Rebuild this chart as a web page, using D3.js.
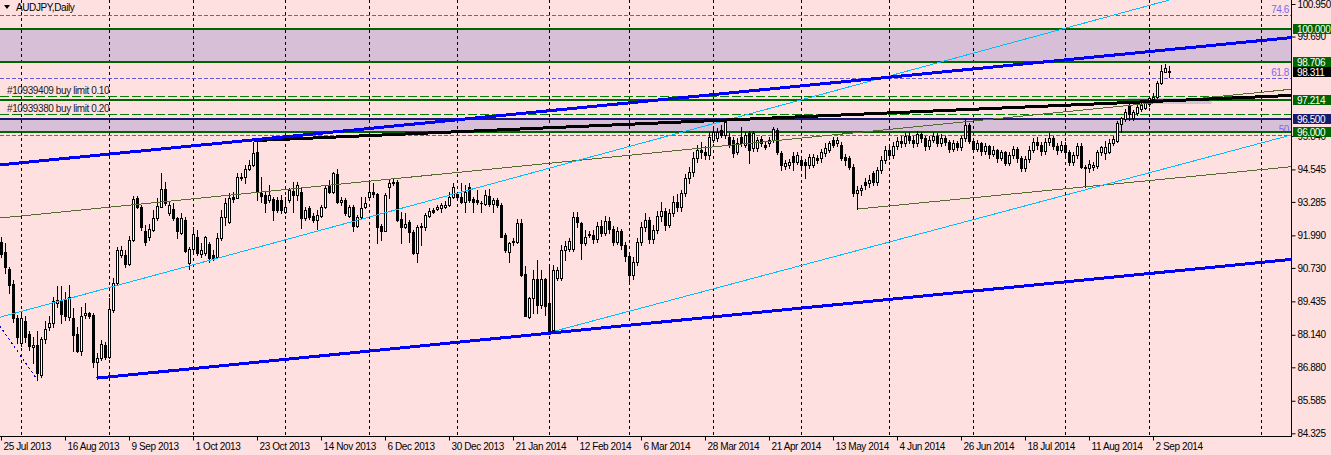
<!DOCTYPE html>
<html><head><meta charset="utf-8">
<script src="https://cdn.jsdelivr.net/npm/d3@7"></script>
<style>
body{margin:0;background:#FFE0E0;overflow:hidden}
svg{display:block}
text{font-family:"Liberation Sans",Arial,sans-serif;font-size:10px;letter-spacing:-0.4px}
</style></head><body>
<svg id="c" width="1331" height="455"></svg>
<script>
// ---------- data (daily candles, index 0 = 25 Jul 2013) ----------
const openL=[91.75,91.36,90.68,90.11,88.78,87.81,88.69,88.18,87.66,87.75,86.59,87.97,88.43,88.59,89.36,89.43,89.49,88.81,88.78,88.18,87.53,88.90,88.98,88.91,87.08,87.23,87.75,87.27,89.10,90.14,91.23,91.23,90.87,91.81,93.43,93.10,92.16,91.92,92.20,92.65,93.10,93.77,92.85,93.00,92.65,92.10,92.59,90.91,91.46,91.92,91.27,91.30,91.66,91.23,91.17,91.88,92.69,92.52,93.49,93.45,94.26,94.26,94.55,94.72,95.23,93.62,93.55,93.36,93.40,93.36,93.36,92.91,93.36,93.71,93.55,93.68,92.65,93.04,92.74,92.59,92.74,93.08,93.94,93.68,94.37,93.27,93.36,92.74,93.08,92.37,92.69,93.08,93.49,93.68,93.58,92.35,92.17,93.88,94.07,94.07,92.63,92.30,92.50,92.12,91.30,92.37,92.33,92.74,92.97,93.01,93.04,93.10,93.17,93.49,93.59,93.49,93.30,93.85,93.40,93.36,93.26,93.21,93.51,93.21,93.36,93.17,92.01,91.36,91.79,91.75,92.46,90.50,88.82,89.56,90.29,89.30,90.29,89.36,88.33,90.33,90.33,91.43,91.45,91.45,92.69,92.46,91.68,92.04];
const highL=[91.92,91.71,90.78,90.27,88.91,89.04,88.85,88.27,88.07,88.27,88.07,88.69,88.85,89.62,90.01,90.03,89.81,90.07,89.17,88.46,89.23,89.36,89.04,88.98,87.43,87.94,87.88,89.56,90.33,91.53,91.56,91.43,91.97,93.52,93.52,93.17,92.39,92.43,92.97,93.43,94.39,94.07,93.30,93.23,92.72,92.87,92.69,91.55,92.30,92.20,91.68,91.97,91.75,91.43,92.07,92.97,93.43,93.62,93.68,94.39,94.39,94.72,94.91,95.62,95.62,94.26,93.68,93.94,93.49,93.49,93.55,93.49,93.81,94.07,94.07,93.81,93.10,93.13,92.85,92.97,93.17,93.94,94.14,94.46,94.55,93.49,93.43,93.17,93.17,92.78,93.49,93.49,94.01,94.01,93.64,92.43,93.62,94.14,94.20,94.14,92.91,92.85,92.59,92.20,92.39,92.46,92.85,93.04,93.04,93.17,93.23,93.33,93.68,94.01,93.68,94.01,93.94,94.01,93.49,93.75,93.33,93.75,93.77,93.43,93.43,93.23,92.07,91.75,91.88,92.61,92.61,90.81,89.62,90.65,91.04,90.65,90.33,90.85,90.85,90.78,91.62,91.79,91.88,92.91,92.91,92.52,92.20,92.14];
const lowL=[91.17,90.52,89.75,88.65,87.81,87.69,87.88,87.56,87.04,86.40,86.52,87.81,88.33,88.46,89.23,88.61,88.72,88.72,87.53,87.49,87.36,88.78,88.78,86.89,86.46,87.17,87.19,87.23,89.04,90.07,91.17,90.78,90.85,91.79,93.04,92.20,91.62,91.81,92.14,92.59,93.08,93.17,92.78,92.59,91.88,92.05,91.36,90.68,91.40,91.23,91.17,91.23,90.94,91.04,91.10,91.81,92.39,92.46,93.30,93.43,94.14,94.01,94.52,94.68,93.36,93.30,92.91,93.30,92.59,92.91,92.85,92.85,93.30,92.91,93.36,92.26,92.59,92.61,92.52,92.23,92.69,93.04,93.62,93.62,93.23,93.17,92.78,92.69,92.17,92.33,92.65,93.04,93.43,93.49,91.71,91.81,92.14,93.43,93.94,92.56,91.68,92.26,91.72,91.27,90.97,91.62,92.20,92.69,92.85,92.97,92.91,93.04,93.13,93.43,93.43,93.23,92.91,93.30,92.91,93.21,92.91,93.17,93.13,92.91,93.10,91.92,91.36,90.97,91.62,91.68,90.43,88.85,88.78,88.98,88.98,89.17,88.91,88.23,88.27,90.27,90.27,91.04,91.40,91.40,92.33,91.06,91.62,91.94];
const closeL=[91.27,90.78,90.07,88.78,88.07,88.78,88.07,87.69,87.75,86.65,87.97,88.36,88.59,89.43,89.47,88.94,88.85,89.59,88.14,87.53,88.87,88.98,88.87,87.10,87.23,87.78,87.27,89.13,90.14,91.43,91.43,90.87,91.81,93.40,93.10,92.33,91.75,92.23,92.68,93.14,93.77,93.26,93.17,92.65,92.14,92.65,91.40,91.46,92.05,91.30,91.43,91.92,91.10,91.10,91.88,92.69,93.23,93.45,93.40,94.24,94.23,94.55,94.72,95.17,93.68,93.53,93.26,93.55,92.97,92.97,92.97,93.08,93.75,93.55,93.94,92.65,92.97,92.69,92.59,92.78,93.08,93.81,93.68,94.39,93.30,93.36,92.85,93.08,92.37,92.69,93.04,93.26,93.66,93.58,92.33,92.17,93.55,94.03,94.01,92.59,92.30,92.42,92.11,91.30,92.33,92.30,92.78,92.95,92.91,93.08,93.17,93.17,93.49,93.85,93.46,93.30,93.66,93.36,93.30,93.30,93.23,93.55,93.21,93.36,93.17,91.94,91.43,91.71,91.72,92.46,90.46,88.85,89.56,90.29,89.30,90.29,89.27,88.27,90.65,90.65,91.43,91.58,91.79,92.69,92.50,91.68,91.92,92.01];
const openR=[92.00,91.85,92.35,92.10,92.55,92.25,91.75,92.15,91.60,91.20,90.45,90.95,91.75,92.30,92.60,91.85,92.20,92.75,92.95,92.40,92.85,93.30,93.10,93.62,94.20,94.45,95.00,95.30,95.20,95.10,95.68,95.75,96.07,95.88,95.81,95.68,95.23,95.81,95.49,95.94,95.36,95.36,95.71,95.49,95.55,95.68,96.07,95.17,94.68,94.72,95.08,94.85,94.91,94.85,94.72,94.72,94.97,94.97,95.17,95.30,95.68,95.55,95.49,95.04,94.97,94.65,93.62,93.75,94.07,94.00,94.39,94.07,94.52,94.90,95.30,95.10,95.45,95.65,95.55,95.85,95.70,95.55,95.90,95.75,95.45,95.70,95.85,95.55,95.75,95.60,95.35,95.55,95.40,95.75,96.25,95.65,95.35,95.55,95.25,95.45,95.15,95.30,95.00,95.20,94.80,95.10,95.35,95.00,94.60,94.95,95.30,95.60,95.50,95.25,95.60,95.75,95.45,95.30,95.50,95.20,94.85,95.10,95.46,94.65,94.59,94.62,94.68,95.20,95.19,95.23,95.56,95.66,96.30,96.50,97.00,96.52,96.72,96.87,96.91,97.08,97.27,97.36,97.88,98.33,98.36];
const highR=[92.20,92.50,92.60,92.75,92.70,92.35,92.30,92.25,91.75,91.30,91.15,91.90,92.50,92.85,92.70,92.40,92.95,93.30,93.05,93.00,93.50,93.60,93.75,94.35,94.65,95.20,95.50,95.60,95.45,96.00,96.10,96.15,96.25,96.43,95.95,95.80,95.75,96.20,96.00,96.05,96.05,95.80,95.85,95.60,95.80,96.20,96.15,95.25,94.90,94.95,95.23,95.20,95.00,94.95,95.15,95.15,95.10,95.35,95.55,95.65,95.81,95.80,95.60,95.15,95.05,94.75,93.90,93.95,94.20,94.33,94.50,94.65,95.05,95.45,95.40,95.60,95.80,95.85,95.95,96.00,95.85,96.05,96.00,95.85,95.85,96.00,95.95,95.90,95.85,95.70,95.70,95.65,95.85,96.50,96.35,95.75,95.70,95.60,95.55,95.50,95.45,95.35,95.30,95.25,95.20,95.45,95.40,95.05,95.05,95.45,95.75,95.80,95.60,95.75,95.95,95.85,95.55,95.65,95.60,95.30,95.20,95.55,95.55,94.70,94.90,94.83,95.30,95.45,95.65,95.72,95.84,96.42,96.59,96.88,97.07,96.85,97.10,97.11,97.24,97.40,97.50,97.95,98.59,98.63,98.55];
const lowR=[91.70,91.75,91.95,92.00,92.10,91.60,91.65,91.45,91.00,90.10,90.30,90.85,91.60,92.15,91.70,91.70,92.10,92.55,92.20,92.30,92.75,92.95,92.95,93.50,94.00,94.30,94.85,95.00,94.95,94.95,95.60,95.65,95.80,95.75,95.40,95.04,95.15,95.45,95.40,94.78,95.25,95.25,95.45,95.35,95.45,95.60,95.15,94.52,94.55,94.60,94.52,94.75,94.60,94.20,94.60,94.65,94.80,94.85,95.05,95.20,95.40,95.45,94.90,94.72,94.55,93.50,93.00,93.55,93.80,93.85,93.95,93.95,94.40,94.80,94.95,95.00,95.35,95.40,95.45,95.55,95.40,95.45,95.60,95.30,95.35,95.60,95.45,95.45,95.50,95.20,95.25,95.30,95.30,95.65,95.55,95.20,95.25,95.10,95.15,95.00,95.05,94.85,94.90,94.70,94.70,95.00,94.85,94.50,94.50,94.85,95.20,95.35,95.10,95.15,95.50,95.35,95.15,95.20,95.05,94.70,94.70,95.00,94.60,93.88,94.45,94.52,94.60,95.10,94.95,95.18,95.49,95.62,95.99,96.42,96.46,96.45,96.65,96.80,96.87,97.00,97.23,97.30,97.85,98.32,98.13];
const closeR=[91.85,92.35,92.10,92.55,92.25,91.75,92.15,91.60,91.20,90.45,90.95,91.75,92.30,92.60,91.85,92.20,92.75,92.95,92.40,92.85,93.30,93.10,93.62,94.20,94.45,95.00,95.30,95.20,95.10,95.81,96.01,96.01,95.88,96.39,95.49,95.17,95.55,95.55,95.88,95.30,95.94,95.68,95.55,95.43,95.68,96.10,95.23,94.72,94.78,94.85,94.85,95.10,94.72,94.72,95.04,95.04,94.91,95.23,95.36,95.55,95.49,95.68,94.97,94.91,94.65,93.62,93.75,93.81,93.94,94.13,94.07,94.52,94.90,95.30,95.10,95.45,95.65,95.55,95.85,95.70,95.55,95.90,95.75,95.45,95.70,95.85,95.55,95.75,95.60,95.35,95.55,95.40,95.75,96.25,95.65,95.35,95.55,95.25,95.45,95.15,95.30,95.00,95.20,94.80,95.10,95.35,95.00,94.60,94.95,95.30,95.60,95.50,95.25,95.60,95.75,95.45,95.30,95.50,95.20,94.85,95.10,95.45,94.65,94.59,94.75,94.72,95.21,95.40,95.42,95.58,95.71,96.33,96.52,96.78,96.68,96.78,96.95,97.04,97.11,97.30,97.36,97.88,98.36,98.46,98.31];

const dateLabels=["25 Jul 2013","16 Aug 2013","9 Sep 2013","1 Oct 2013","23 Oct 2013","14 Nov 2013","6 Dec 2013","30 Dec 2013","21 Jan 2014","12 Feb 2014","6 Mar 2014","28 Mar 2014","21 Apr 2014","13 May 2014","4 Jun 2014","26 Jun 2014","18 Jul 2014","11 Aug 2014","2 Sep 2014"];
const dateLabelIdx=[0,16,32,48,64,80,96,112,128,144,160,176,192,208,224,240,256,272,288];
const monthStartIdx=[5,27,48,71,92,114,137,157,178,200,222,243,266,287,315];
const priceTicks=[100.950,99.690,95.840,94.545,93.285,91.990,90.730,89.435,88.140,86.880,85.585,84.325];

const zoneTop=[100.000,96.500], zoneBottom=[98.706,96.000];
const smallZone=[281.5,97.31,302.5,97.08]; // [index1, price1, index2, price2]
const greenLevels=[100.000,98.706,97.214,96.000];
const navyLevel=96.500;
const bidPrice=98.311;
const orderPrices=[97.39,96.68];
const orderLabels=["#10939409 buy limit 0.10","#10939380 buy limit 0.20"];
const fibPrices=[100.51,98.07,95.88];
const fibLabels=["74.6","61.8","50"];
// trend lines: [index1, price1, index2, price2]
const blueLines=[[-0.4,94.72,322.5,99.65],[23.75,86.46,322.5,91.06]];
const skyLines=[[-0.4,88.82,292,101.107],[137,88.23,322.5,95.88]];
const oliveLines=[[-0.4,92.66,322.5,97.65],[214,93.01,322.5,94.65]];
const blackLines=[[63,95.66,322.5,97.41]];
const dotLines=[[-0.4,88.48,8.6,86.47]];

const openP=openL.concat(openR), highP=highL.concat(highR), lowP=lowL.concat(lowR), closeP=closeL.concat(closeR);

// ---------- chart ----------
const svg=d3.select('#c');
svg.append('rect').attr('width',1331).attr('height',455).attr('fill','#FFE0E0');
const x=d3.scaleLinear().domain([0,322.5]).range([1.5,1291.5]);
const y=d3.scaleLinear().domain([84.325,100.950]).range([433.3,4]);
const ry=p=>Math.round(y(p));

svg.append('clipPath').attr('id','pc').append('rect').attr('x',0).attr('y',0).attr('width',1291).attr('height',436);
const g=svg.append('g').attr('clip-path','url(#pc)');

zoneTop.forEach((t,k)=>g.append('rect').attr('x',0).attr('width',1291).attr('y',ry(t)).attr('height',ry(zoneBottom[k])-ry(t)).attr('fill','#D8BFD8'));
g.append('rect').attr('x',x(smallZone[0])).attr('width',x(smallZone[2])-x(smallZone[0]))
  .attr('y',ry(smallZone[1])).attr('height',ry(smallZone[3])-ry(smallZone[1])).attr('fill','#D3C3D3');

monthStartIdx.forEach(i=>g.append('line').attr('x1',x(i)).attr('x2',x(i)).attr('y1',0).attr('y2',436)
  .attr('stroke','#000').attr('stroke-dasharray','3,3').attr('shape-rendering','crispEdges'));

fibPrices.forEach((p,k)=>{
  g.append('line').attr('x1',0).attr('x2',1291).attr('y1',ry(p)+0.5).attr('y2',ry(p)+0.5)
   .attr('stroke','#6A5ACD').attr('stroke-dasharray','4,2').attr('shape-rendering','crispEdges');
  g.append('text').attr('x',1289).attr('y',ry(p)-2).attr('text-anchor','end').attr('fill','#7B68EE').text(fibLabels[k]);
});

orderPrices.forEach((p,k)=>{
  g.append('line').attr('x1',0).attr('x2',1291).attr('y1',ry(p)+0.5).attr('y2',ry(p)+0.5)
   .attr('stroke','#008000').attr('stroke-dasharray','9,3').attr('shape-rendering','crispEdges');
  g.append('text').attr('x',7).attr('y',ry(p)-2).attr('fill','#202020').text(orderLabels[k]);
});

greenLevels.forEach(p=>g.append('line').attr('x1',0).attr('x2',1291).attr('y1',ry(p)).attr('y2',ry(p))
  .attr('stroke','#006400').attr('stroke-width',2).attr('shape-rendering','crispEdges'));
g.append('line').attr('x1',0).attr('x2',1291).attr('y1',ry(navyLevel)).attr('y2',ry(navyLevel))
  .attr('stroke','#191970').attr('stroke-width',2).attr('shape-rendering','crispEdges');

// candles
const cg=g.append('g').attr('shape-rendering','crispEdges');
openP.forEach((o,i)=>{
  const c=closeP[i], h=highP[i], l=lowP[i];
  const cx=x(i);
  cg.append('line').attr('x1',cx).attr('x2',cx).attr('y1',ry(h)).attr('y2',ry(l)+1).attr('stroke','#000');
  const top=ry(Math.max(o,c)), bot=ry(Math.min(o,c));
  const up=c>=o;
  if(bot-top<1){
    cg.append('line').attr('x1',cx-1.5).attr('x2',cx+1.5).attr('y1',top+0.5).attr('y2',top+0.5).attr('stroke','#000');
  } else {
    cg.append('rect').attr('x',cx-1).attr('width',2).attr('y',top+0.5).attr('height',bot-top)
      .attr('fill',up?'#fff':'#000').attr('stroke','#000');
  }
});

function drawLine(arr,color,w,dash){
  arr.forEach(a=>{
    const [i1,p1,i2,p2]=a;
    g.append('line').attr('x1',x(i1)).attr('y1',y(p1)).attr('x2',x(i2)).attr('y2',y(p2))
     .attr('stroke',color).attr('stroke-width',w).attr('stroke-dasharray',dash||null).attr('shape-rendering','crispEdges');
  });
}
drawLine(oliveLines,'#556B2F',1);
drawLine(skyLines,'#00BFFF',1);
drawLine(blackLines,'#000',3);
drawLine(blueLines,'#0000FF',3);
drawLine(dotLines,'#0000CD',1,'2,3');

// axes
svg.append('line').attr('x1',1291.5).attr('x2',1291.5).attr('y1',0).attr('y2',437).attr('stroke','#000');
svg.append('line').attr('x1',0).attr('x2',1292).attr('y1',436.5).attr('y2',436.5).attr('stroke','#000');

const ya=d3.axisRight(y).tickValues(priceTicks).tickFormat(d3.format('.3f')).tickSize(4).tickPadding(2);
const yag=svg.append('g').attr('transform','translate(1291.5,0)').call(ya);
yag.select('.domain').remove();
yag.selectAll('text').style('font-family','"Liberation Sans",Arial,sans-serif').style('font-size','10px').attr('fill','#000');
yag.selectAll('line').attr('stroke','#000');

const xa=d3.axisBottom(x).tickValues(dateLabelIdx).tickFormat((d,k)=>dateLabels[k]).tickSize(4).tickPadding(2);
const xag=svg.append('g').attr('transform','translate(-0.5,436.5)').call(xa);
xag.select('.domain').remove();
xag.selectAll('text').attr('text-anchor','start').attr('x',2).style('font-family','"Liberation Sans",Arial,sans-serif').style('font-size','10px').attr('fill','#000');
xag.selectAll('line').attr('stroke','#000');

// price label boxes
function box(p,bg){
  const cy=ry(p);
  svg.append('rect').attr('x',1293).attr('y',cy-5).attr('width',38).attr('height',10).attr('fill',bg);
  svg.append('text').attr('x',1297).attr('y',cy+4).attr('fill','#fff').text(d3.format('.3f')(p));
}
greenLevels.forEach(p=>box(p,'#006400'));
box(navyLevel,'#191970');
box(bidPrice,'#000');

// title
svg.append('path').attr('d','M4,5 L10,5 L7,9 Z').attr('fill','#000');
svg.append('text').attr('x',16).attr('y',11).attr('fill','#000').text('AUDJPY,Daily');
</script></body></html>
